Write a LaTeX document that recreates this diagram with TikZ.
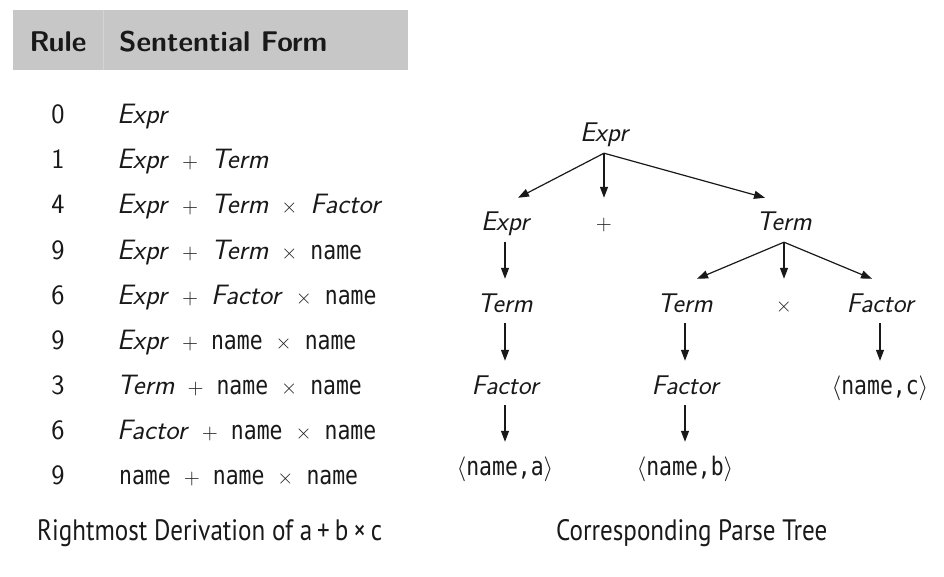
\documentclass[tikz,border=0pt]{standalone}
\usepackage{fontspec}
\usetikzlibrary{arrows.meta}
\newfontfamily\monof{DejaVu Sans Mono}[FakeStretch=0.84]
\newfontfamily\capf{PT Sans}[FakeStretch=0.85]
\definecolor{headgray}{RGB}{199,199,199}
\definecolor{divgray}{RGB}{212,212,212}
\definecolor{ink}{RGB}{25,25,25}
\newcommand\NT[1]{\textit{#1}}
\newcommand\opx[1]{\hspace{13pt}{\fontsize{22}{26}\selectfont #1}\hspace{13pt}}
\newcommand\nm{{\monof\fontsize{25.5}{30}\selectfont name}}
\newcommand\leaf[1]{{\fontsize{27}{30}\selectfont$\langle$}{\monof\fontsize{25.5}{30}\selectfont name,#1}{\fontsize{27}{30}\selectfont$\rangle$}}
\tikzset{
  rownum/.style={anchor=base, inner sep=0pt, text=ink, font=\fontsize{28}{32}\sffamily},
  rowtext/.style={anchor=base west, inner sep=0pt, text=ink, font=\fontsize{28}{32}\sffamily},
  headtext/.style={anchor=base, inner sep=0pt, text=ink, font=\fontsize{28.5}{32}\sffamily\bfseries},
  tn/.style={anchor=base, inner sep=0pt, text height=33pt, text depth=11pt, text=ink, font=\fontsize{27}{30}\sffamily\itshape},
  tsym/.style={anchor=base, inner sep=0pt, text height=33pt, text depth=11pt, text=ink, font=\fontsize{22}{26}\sffamily},
  tleaf/.style={anchor=base, inner sep=0pt, text height=33pt, text depth=11pt, text=ink, font=\fontsize{27}{30}\sffamily},
  arr/.style={draw=ink, line width=1.2pt, -{Triangle[length=11pt,width=8pt]}},
  captext/.style={anchor=base west, inner sep=0pt, text=ink, font=\fontsize{29.5}{33}\capf}
}
\begin{document}
\begin{tikzpicture}[x=1pt,y=-1pt]
\useasboundingbox (0,0) rectangle (944,577);
% header
\fill[headgray] (13,10) rectangle (408,70);
\draw[divgray, line width=1pt] (103,10) -- (103,70);
\node[headtext] (hrule) at (58,52) {Rule};
\node[headtext, anchor=base west] (hform) at (119,52) {Sentential Form};
% rows
\node[rownum] (n0) at (58,124) {0};
\node[rowtext] (r0) at (117,124) {\NT{Expr}};
\node[rownum] (n1) at (58,169) {1};
\node[rowtext] (r1) at (117,169) {\NT{Expr}\opx{+}\NT{Term}};
\node[rownum] (n2) at (58,214) {4};
\node[rowtext] (r2) at (117,214) {\NT{Expr}\opx{+}\NT{Term}\opx{×}\NT{Factor}};
\node[rownum] (n3) at (58,259) {9};
\node[rowtext] (r3) at (117,259) {\NT{Expr}\opx{+}\NT{Term}\opx{×}\nm};
\node[rownum] (n4) at (58,304) {6};
\node[rowtext] (r4) at (117,304) {\NT{Expr}\opx{+}\NT{Factor}\opx{×}\nm};
\node[rownum] (n5) at (58,349) {9};
\node[rowtext] (r5) at (117,349) {\NT{Expr}\opx{+}\nm\opx{×}\nm};
\node[rownum] (n6) at (58,394) {3};
\node[rowtext] (r6) at (117,394) {\NT{Term}\opx{+}\nm\opx{×}\nm};
\node[rownum] (n7) at (58,439) {6};
\node[rowtext] (r7) at (117,439) {\NT{Factor}\opx{+}\nm\opx{×}\nm};
\node[rownum] (n8) at (58,484) {9};
\node[rowtext] (r8) at (119,484) {\nm\opx{+}\nm\opx{×}\nm};
% captions
\node[captext] (cap1) at (37,540) {Rightmost Derivation of a\,+\,b\,×\,c};
\node[captext] (cap2) at (556,540) {Corresponding Parse Tree};
% tree
\node[tn] (root) at (604,142) {Expr};
\node[tn] (e2) at (505,231) {Expr};
\node[tsym] (plus) at (604,231) {+};
\node[tn] (t2) at (784,231) {Term};
\node[tn] (t3a) at (505,312) {Term};
\node[tn] (t3b) at (685,312) {Term};
\node[tsym] (times) at (784,312) {×};
\node[tn] (f3) at (880,312) {Factor};
\node[tn] (f4a) at (505,394) {Factor};
\node[tn] (f4b) at (685,394) {Factor};
\node[tleaf] (lc) at (880,394) {\leaf{c}};
\node[tleaf] (la) at (505,475) {\leaf{a}};
\node[tleaf] (lb) at (685,475) {\leaf{b}};
\draw[arr] (root.south) -- ([xshift=13pt]e2.north);
\draw[arr] (root.south) -- (plus.north);
\draw[arr] (root.south) -- ([xshift=-19pt]t2.north);
\draw[arr] (t2.south) -- ([xshift=12pt]t3b.north);
\draw[arr] (t2.south) -- (times.north);
\draw[arr] (t2.south) -- ([xshift=-8pt]f3.north);
\draw[arr] (e2.south) -- (t3a.north);
\draw[arr] (t3a.south) -- (f4a.north);
\draw[arr] (f4a.south) -- (la.north);
\draw[arr] (t3b.south) -- (f4b.north);
\draw[arr] (f4b.south) -- (lb.north);
\draw[arr] (f3.south) -- (lc.north);
\end{tikzpicture}
\end{document}
